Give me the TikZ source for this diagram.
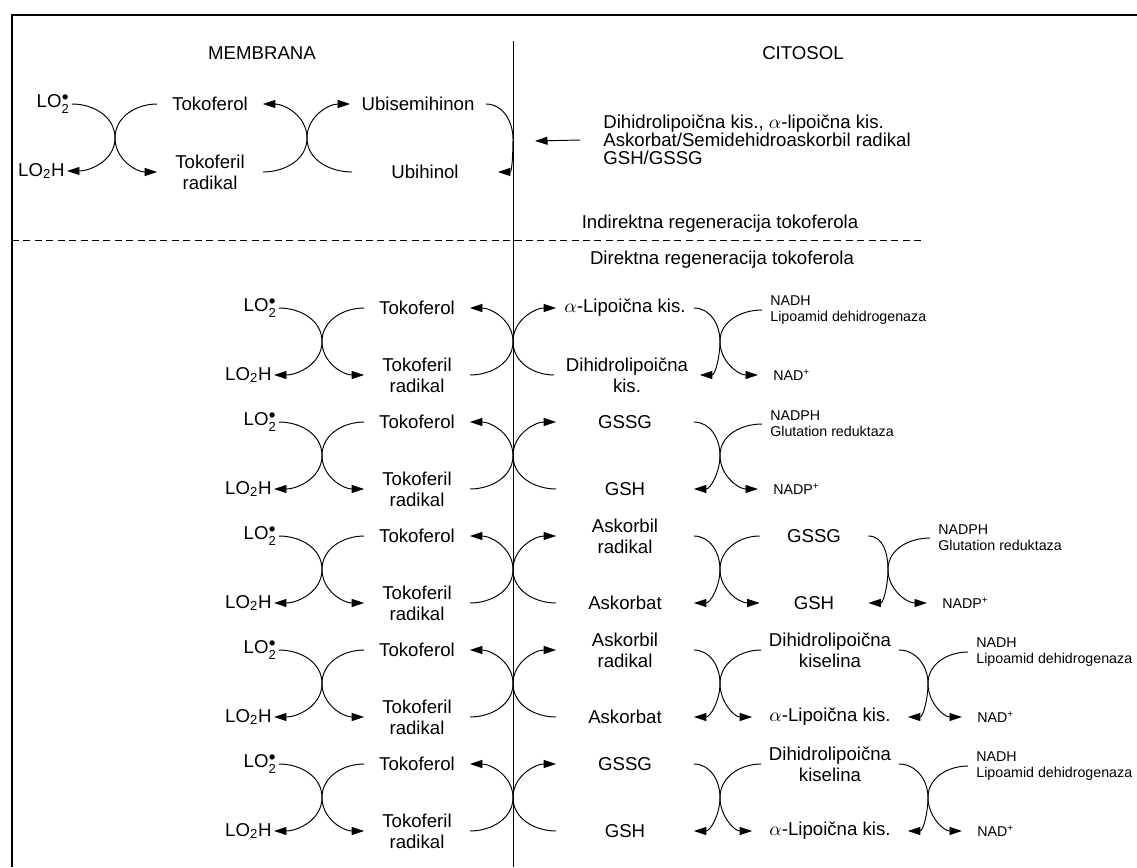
\documentclass[tikz,border=0pt]{standalone}
\usepackage{amsmath}
\usepackage{fontspec}
\setmainfont{Liberation Sans}
\usetikzlibrary{arrows.meta}
\tikzset{
  chem/.style={font=\fontsize{10.6}{12}\selectfont, align=center, inner sep=0.04cm},
  cofac/.style={font=\fontsize{8.1}{9.2}\selectfont, align=left, anchor=west,
                inner xsep=0.16cm, inner ysep=0pt},
  cofacout/.style={cofac, inner xsep=0.3cm},
  sidelabel/.style={font=\fontsize{10.6}{12}\selectfont, inner sep=0pt},
  rxnarrow/.style={-{Triangle[length=2.5mm,width=1.6mm]}, line width=0.55pt},
  rxnline/.style={line width=0.55pt},
  frameline/.style={line width=1.1pt}
}

\begin{document}
\begin{tikzpicture}[x=0.02cm, y=0.02cm]
\useasboundingbox (0,0) rectangle (1137,-867);

% --- Frame, membrane border, separator ---
\draw[frameline] (12,-867) -- (12,-15) -- (1137,-15);
\draw[rxnline] (513,-41) -- (513,-867);
\draw[rxnline, dash pattern=on 4pt off 2.5pt] (12,-240) -- (925,-240);

% --- Compartment and section labels ---
\node[sidelabel] (membrana) at (262,-53)  {MEMBRANA};
\node[sidelabel] (citosol)  at (803,-53)  {CITOSOL};
\node[sidelabel] (indirekt) at (720,-224) {Indirektna regeneracija tokoferola};
\node[sidelabel] (direkt)   at (722,-260) {Direktna regeneracija tokoferola};

% --- Indirect regeneration (top) ---
\node[chem, anchor=east] (lo2T)  at (72,-104) {LO$_{\text{2}}^{\bullet}$};
\node[chem, anchor=east] (lo2hT) at (67,-171) {LO$_{\text{2}}$H};
\node[chem, minimum width=2.1cm] (tokT) at (210,-104) {Tokoferol};
\node[chem, minimum width=2.1cm] (tkrT) at (210,-172) {Tokoferil\\radikal};
\node[chem, minimum width=2.7cm] (ubsT) at (418,-104) {Ubisemihinon};
\node[chem, minimum width=2.9cm] (ubhT) at (425,-172) {Ubihinol};
\node[chem, anchor=west, align=left, font=\fontsize{10.6}{10.4}\selectfont] (donT) at (601,-140)
  {Dihidrolipoična kis., $\alpha$-lipoična kis.\\Askorbat/Semidehidroaskorbil radikal\\GSH/GSSG};
\coordinate (xT1) at (115,-138);
\coordinate (xT2) at (307,-138);
\coordinate (xT3) at (513,-139);
\coordinate (arT) at (535,-141);
\draw[rxnarrow] (lo2T.east) to[out=0,in=90] (xT1) to[out=-90,in=0] (lo2hT.east);
\draw[rxnarrow] (tokT.west) to[out=180,in=90] (xT1) to[out=-90,in=180] (tkrT.west);
\draw[rxnarrow] (tkrT.east) to[out=0,in=-90] (xT2) to[out=90,in=0] (tokT.east);
\draw[rxnarrow] (ubhT.west) to[out=180,in=-90] (xT2) to[out=90,in=180] (ubsT.west);
\draw[rxnarrow] (ubsT.east) to[out=0,in=90] (xT3) to[out=-90,in=0] (ubhT.east);
\draw[rxnarrow] ([xshift=-0.42cm]donT.west) -- (arT);

% --- Direct regeneration: membrane side, the same in every row ---
\foreach \i in {1,...,5}{
  \pgfmathsetmacro{\yt}{-308-114*(\i-1)}
  \pgfmathsetmacro{\yb}{\yt-67}
  \pgfmathsetmacro{\ym}{\yt-33.5}
  \node[chem, anchor=east] (lo2-\i)  at (279,\yt) {LO$_{\text{2}}^{\bullet}$};
  \node[chem, anchor=east] (lo2h-\i) at (274,\yb) {LO$_{\text{2}}$H};
  \node[chem, minimum width=2.1cm] (tok-\i) at (417,\yt) {Tokoferol};
  \node[chem, minimum width=2.1cm] (tkr-\i) at (417,\yb) {Tokoferil\\radikal};
  \coordinate (xL-\i) at (322,\ym);
  \coordinate (xM-\i) at (513,\ym);
  \draw[rxnarrow] (lo2-\i.east) to[out=0,in=90] (xL-\i) to[out=-90,in=0] (lo2h-\i.east);
  \draw[rxnarrow] (tok-\i.west) to[out=180,in=90] (xL-\i) to[out=-90,in=180] (tkr-\i.west);
  \draw[rxnarrow] (tkr-\i.east) to[out=0,in=-90] (xM-\i) to[out=90,in=0] (tok-\i.east);
}

% --- Row 1: lipoic acid ---
\node[chem, minimum width=2.74cm] (aT-1) at (625,-308) {$\alpha$-Lipoična kis.};
\node[chem, minimum width=2.9cm]  (aB-1) at (627,-375) {Dihidrolipoična\\kis.};
\node[cofac]    (nT-1) at (762,-310) {NADH\\Lipoamid dehidrogenaza};
\node[cofacout] (nB-1) at (758,-375) {NAD\textsuperscript{+}};
\coordinate (xA-1) at (720,-341.5);
\draw[rxnarrow] (aB-1.west) to[out=180,in=-90] (xM-1) to[out=90,in=180] (aT-1.west);
\draw[rxnarrow] (aT-1.east) to[out=0,in=90] (xA-1) to[out=-90,in=0] (aB-1.east);
\draw[rxnarrow] (nT-1.west) to[out=180,in=90] (xA-1) to[out=-90,in=180] (nB-1.west);

% --- Row 2: glutathione ---
\node[chem, minimum width=2.74cm] (aT-2) at (625,-422) {GSSG};
\node[chem, minimum width=2.74cm] (aB-2) at (625,-489) {GSH};
\node[cofac]    (nT-2) at (762,-424) {NADPH\\Glutation reduktaza};
\node[cofacout] (nB-2) at (758,-489) {NADP\textsuperscript{+}};
\coordinate (xA-2) at (720,-455.5);
\draw[rxnarrow] (aB-2.west) to[out=180,in=-90] (xM-2) to[out=90,in=180] (aT-2.west);
\draw[rxnarrow] (aT-2.east) to[out=0,in=90] (xA-2) to[out=-90,in=0] (aB-2.east);
\draw[rxnarrow] (nT-2.west) to[out=180,in=90] (xA-2) to[out=-90,in=180] (nB-2.west);

% --- Row 3: ascorbate + glutathione ---
\node[chem, minimum width=2.74cm] (aT-3) at (625,-536) {Askorbil\\radikal};
\node[chem, minimum width=2.74cm] (aB-3) at (625,-603) {Askorbat};
\node[chem, minimum width=2.16cm] (bT-3) at (814,-536) {GSSG};
\node[chem, minimum width=2.16cm] (bB-3) at (814,-603) {GSH};
\node[cofac]    (nT-3) at (930,-538) {NADPH\\Glutation reduktaza};
\node[cofacout] (nB-3) at (927,-603) {NADP\textsuperscript{+}};
\coordinate (xA-3) at (720,-569.5);
\coordinate (xB-3) at (888,-569.5);
\draw[rxnarrow] (aB-3.west) to[out=180,in=-90] (xM-3) to[out=90,in=180] (aT-3.west);
\draw[rxnarrow] (aT-3.east) to[out=0,in=90] (xA-3) to[out=-90,in=0] (aB-3.east);
\draw[rxnarrow] (bT-3.west) to[out=180,in=90] (xA-3) to[out=-90,in=180] (bB-3.west);
\draw[rxnarrow] (bT-3.east) to[out=0,in=90] (xB-3) to[out=-90,in=0] (bB-3.east);
\draw[rxnarrow] (nT-3.west) to[out=180,in=90] (xB-3) to[out=-90,in=180] (nB-3.west);

% --- Row 4: ascorbate + lipoic acid ---
\node[chem, minimum width=2.74cm] (aT-4) at (625,-650) {Askorbil\\radikal};
\node[chem, minimum width=2.74cm] (aB-4) at (625,-717) {Askorbat};
\node[chem, minimum width=2.74cm] (bT-4) at (830,-650) {Dihidrolipoična\\kiselina};
\node[chem, minimum width=3.1cm]  (bB-4) at (830,-717) {$\alpha$-Lipoična kis.};
\node[cofac]    (nT-4) at (968,-652) {NADH\\Lipoamid dehidrogenaza};
\node[cofacout] (nB-4) at (962,-717) {NAD\textsuperscript{+}};
\coordinate (xA-4) at (720,-683.5);
\coordinate (xB-4) at (928,-683.5);
\draw[rxnarrow] (aB-4.west) to[out=180,in=-90] (xM-4) to[out=90,in=180] (aT-4.west);
\draw[rxnarrow] (aT-4.east) to[out=0,in=90] (xA-4) to[out=-90,in=0] (aB-4.east);
\draw[rxnarrow] (bT-4.west) to[out=180,in=90] (xA-4) to[out=-90,in=180] (bB-4.west);
\draw[rxnarrow] (bT-4.east) to[out=0,in=90] (xB-4) to[out=-90,in=0] (bB-4.east);
\draw[rxnarrow] (nT-4.west) to[out=180,in=90] (xB-4) to[out=-90,in=180] (nB-4.west);

% --- Row 5: glutathione + lipoic acid ---
\node[chem, minimum width=2.74cm] (aT-5) at (625,-764) {GSSG};
\node[chem, minimum width=2.74cm] (aB-5) at (625,-831) {GSH};
\node[chem, minimum width=2.74cm] (bT-5) at (830,-764) {Dihidrolipoična\\kiselina};
\node[chem, minimum width=3.1cm]  (bB-5) at (830,-831) {$\alpha$-Lipoična kis.};
\node[cofac]    (nT-5) at (968,-766) {NADH\\Lipoamid dehidrogenaza};
\node[cofacout] (nB-5) at (962,-831) {NAD\textsuperscript{+}};
\coordinate (xA-5) at (720,-797.5);
\coordinate (xB-5) at (928,-797.5);
\draw[rxnarrow] (aB-5.west) to[out=180,in=-90] (xM-5) to[out=90,in=180] (aT-5.west);
\draw[rxnarrow] (aT-5.east) to[out=0,in=90] (xA-5) to[out=-90,in=0] (aB-5.east);
\draw[rxnarrow] (bT-5.west) to[out=180,in=90] (xA-5) to[out=-90,in=180] (bB-5.west);
\draw[rxnarrow] (bT-5.east) to[out=0,in=90] (xB-5) to[out=-90,in=0] (bB-5.east);
\draw[rxnarrow] (nT-5.west) to[out=180,in=90] (xB-5) to[out=-90,in=180] (nB-5.west);

\end{tikzpicture}
\end{document}
